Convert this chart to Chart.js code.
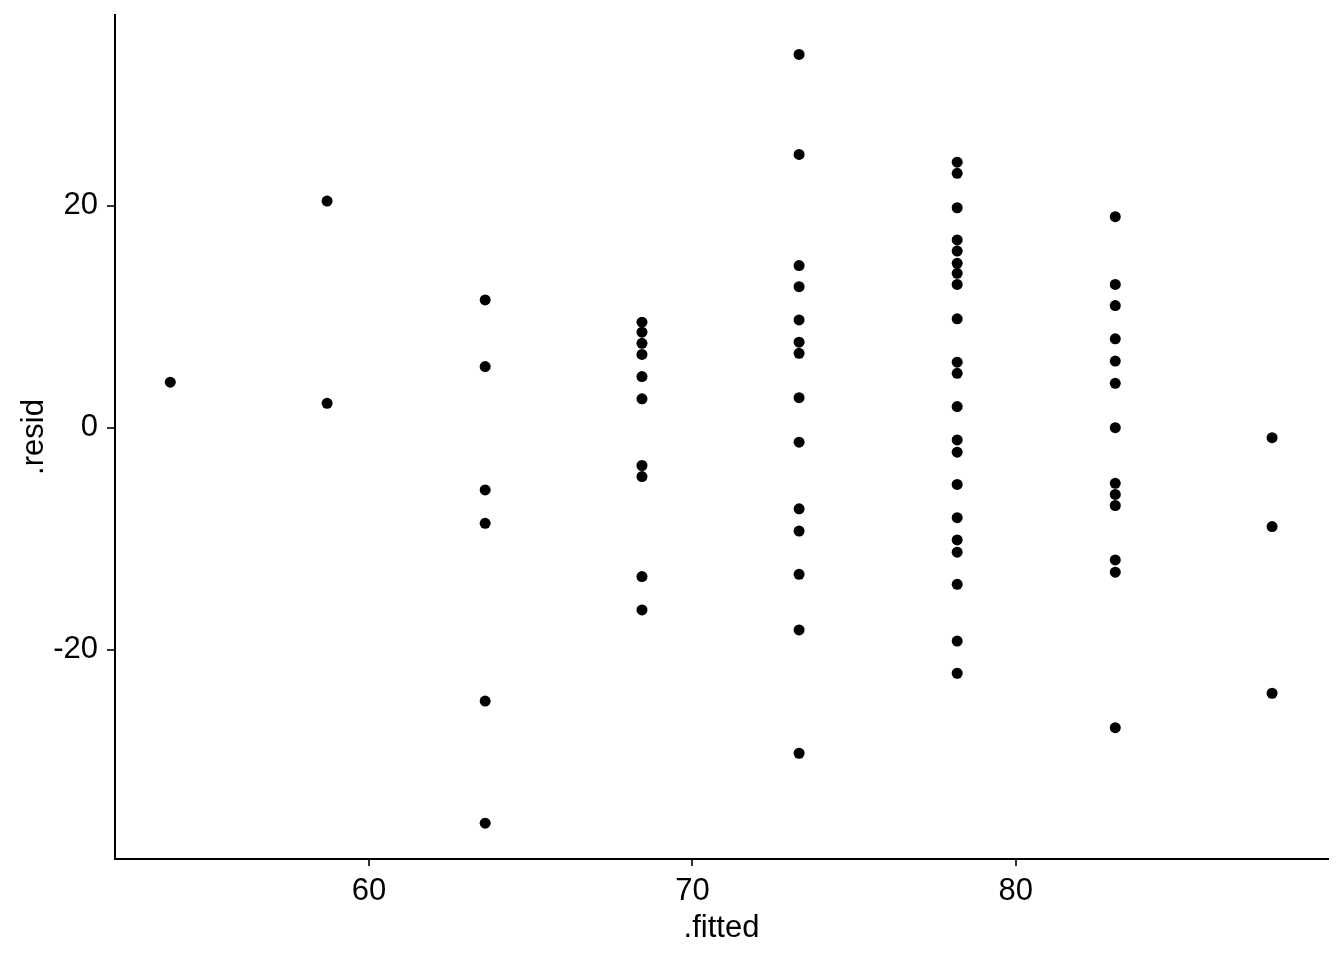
<!DOCTYPE html>
<html>
<head>
<meta charset="utf-8">
<script src="https://cdn.jsdelivr.net/npm/chart.js@4"></script>
<style>
  html, body { margin: 0; padding: 0; background: #fff; }
  #wrap { width: 1344px; height: 960px; }
</style>
</head>
<body>
<div id="wrap"><canvas id="resid-plot"></canvas></div>
<script>
// fitted values (one per group) and the residuals
var fitted = [53.85, 58.70, 63.59, 68.44, 73.30, 78.19, 83.08, 87.93];
var resid1 = [4.1];
var resid2 = [20.4, 2.2];
var resid3 = [11.5, 5.5, -5.6, -8.6, -24.6, -35.6];
var resid4 = [9.5, 8.6, 7.6, 6.6, 4.6, 2.6, -3.4, -4.4, -13.4, -16.4];
var resid5 = [33.6, 24.6, 14.6, 12.7, 9.7, 7.7, 6.7, 2.7, -1.3, -7.3, -9.3, -13.2, -18.2, -29.3];
var resid6 = [23.9, 22.9, 19.8, 16.9, 15.9, 14.8, 13.9, 12.9, 9.8, 5.9, 4.9, 1.9, -1.1, -2.2, -5.1, -8.1, -10.1, -11.2, -14.1, -19.2, -22.1];
var resid7 = [19.0, 12.9, 11.0, 8.0, 6.0, 4.0, 0, -5.0, -6.0, -7.0, -11.9, -13.0, -27.0];
var resid8 = [-0.9, -8.9, -23.9];
var xTicks = [60, 70, 80];
var yTicks = [-20, 0, 20];

var groups = [resid1, resid2, resid3, resid4, resid5, resid6, resid7, resid8];
var points = [];
groups.forEach(function(g, i) {
  g.forEach(function(r) { points.push({x: fitted[i], y: r}); });
});

var font = {family: "'Liberation Sans', Arial, sans-serif", size: 31};

var residPlot = new Chart(document.getElementById("resid-plot"), {
  type: 'scatter',
  data: {
    datasets: [{
      data: points,
      backgroundColor: "#000",
      borderWidth: 0,
      pointRadius: 5.5,
      pointHoverRadius: 5.5
    }]
  },
  options: {
    responsive: true,
    maintainAspectRatio: false,
    animation: false,
    layout: { padding: { top: 15, right: 16, left: 0, bottom: 0 } },
    plugins: { legend: { display: false }, tooltip: { enabled: false } },
    scales: {
      x: {
        type: 'linear',
        min: 52.14,
        max: 89.66,
        afterBuildTicks: function(s) { s.ticks = xTicks.map(function(v) { return {value: v}; }); },
        afterFit: function(s) { s.height = 101; s.paddingLeft = 0; s.paddingRight = 0; },
        grid: { drawOnChartArea: false, drawTicks: true, tickLength: 7, color: "#333", lineWidth: 2 },
        border: { display: true, color: "#000", width: 2 },
        ticks: { color: "#000", font: font, padding: 7, maxRotation: 0 },
        title: { display: true, text: ".fitted", color: "#000", font: font, padding: { top: 0, bottom: 13 } }
      },
      y: {
        type: 'linear',
        min: -38.82,
        max: 37.15,
        afterBuildTicks: function(s) { s.ticks = yTicks.map(function(v) { return {value: v}; }); },
        afterFit: function(s) { s.width = 115; s.paddingTop = 0; s.paddingBottom = 0; },
        grid: { drawOnChartArea: false, drawTicks: true, tickLength: 8, color: "#333", lineWidth: 2 },
        border: { display: true, color: "#000", width: 2 },
        ticks: { color: "#000", font: font, padding: 9 },
        title: { display: true, text: ".resid", color: "#000", font: font, padding: { top: 16, bottom: 0 } }
      }
    }
  }
});
</script>
</body>
</html>
